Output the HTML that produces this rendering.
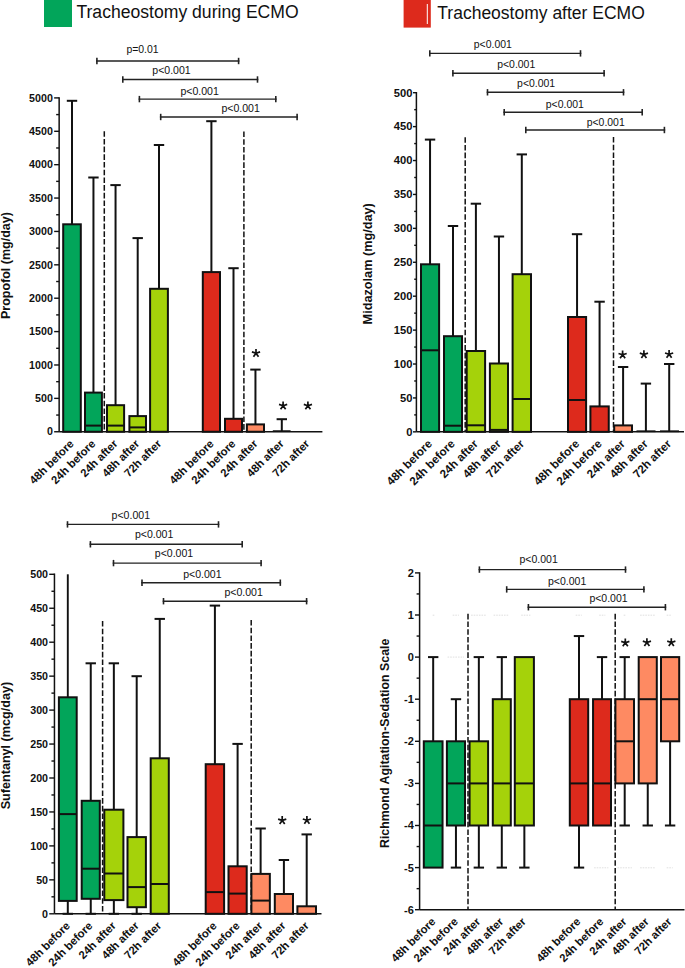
<!DOCTYPE html>
<html><head><meta charset="utf-8"><title>Tracheostomy ECMO sedation</title>
<style>
html,body{margin:0;padding:0;background:#fff;width:685px;height:968px;overflow:hidden}
svg{display:block}
text{font-family:"Liberation Sans", sans-serif;fill:#111}
</style></head>
<body>
<svg width="685" height="968" viewBox="0 0 685 968">
<rect x="44" y="-2" width="28" height="29" fill="#02a55a"/>
<text x="76.4" y="18.2" font-size="17.6" fill="#231f20">Tracheostomy during ECMO</text>
<rect x="403.6" y="-2" width="27.2" height="29.6" fill="#dd2a1c"/>
<line x1="427.3" y1="4" x2="427.3" y2="24" stroke="#fff" stroke-width="1"/>
<text x="437.3" y="18.6" font-size="17.5" fill="#231f20">Tracheostomy after ECMO</text>
<line x1="59.15" y1="97.2" x2="59.15" y2="431.75" stroke="#111" stroke-width="1.5"/>
<line x1="54.15" y1="431.75" x2="59.15" y2="431.75" stroke="#111" stroke-width="1.4"/>
<line x1="54.15" y1="398.37" x2="59.15" y2="398.37" stroke="#111" stroke-width="1.4"/>
<line x1="54.15" y1="364.98" x2="59.15" y2="364.98" stroke="#111" stroke-width="1.4"/>
<line x1="54.15" y1="331.59" x2="59.15" y2="331.59" stroke="#111" stroke-width="1.4"/>
<line x1="54.15" y1="298.21" x2="59.15" y2="298.21" stroke="#111" stroke-width="1.4"/>
<line x1="54.15" y1="264.82" x2="59.15" y2="264.82" stroke="#111" stroke-width="1.4"/>
<line x1="54.15" y1="231.44" x2="59.15" y2="231.44" stroke="#111" stroke-width="1.4"/>
<line x1="54.15" y1="198.06" x2="59.15" y2="198.06" stroke="#111" stroke-width="1.4"/>
<line x1="54.15" y1="164.67" x2="59.15" y2="164.67" stroke="#111" stroke-width="1.4"/>
<line x1="54.15" y1="131.29" x2="59.15" y2="131.29" stroke="#111" stroke-width="1.4"/>
<line x1="54.15" y1="97.9" x2="59.15" y2="97.9" stroke="#111" stroke-width="1.4"/>
<line x1="56.15" y1="415.06" x2="59.15" y2="415.06" stroke="#111" stroke-width="1.4"/>
<line x1="56.15" y1="381.67" x2="59.15" y2="381.67" stroke="#111" stroke-width="1.4"/>
<line x1="56.15" y1="348.29" x2="59.15" y2="348.29" stroke="#111" stroke-width="1.4"/>
<line x1="56.15" y1="314.9" x2="59.15" y2="314.9" stroke="#111" stroke-width="1.4"/>
<line x1="56.15" y1="281.52" x2="59.15" y2="281.52" stroke="#111" stroke-width="1.4"/>
<line x1="56.15" y1="248.13" x2="59.15" y2="248.13" stroke="#111" stroke-width="1.4"/>
<line x1="56.15" y1="214.75" x2="59.15" y2="214.75" stroke="#111" stroke-width="1.4"/>
<line x1="56.15" y1="181.36" x2="59.15" y2="181.36" stroke="#111" stroke-width="1.4"/>
<line x1="56.15" y1="147.98" x2="59.15" y2="147.98" stroke="#111" stroke-width="1.4"/>
<line x1="56.15" y1="114.59" x2="59.15" y2="114.59" stroke="#111" stroke-width="1.4"/>
<text x="52.85" y="435.45" font-size="10.7" font-weight="bold" text-anchor="end">0</text>
<text x="52.85" y="402.06" font-size="10.7" font-weight="bold" text-anchor="end">500</text>
<text x="52.85" y="368.68" font-size="10.7" font-weight="bold" text-anchor="end">1000</text>
<text x="52.85" y="335.29" font-size="10.7" font-weight="bold" text-anchor="end">1500</text>
<text x="52.85" y="301.91" font-size="10.7" font-weight="bold" text-anchor="end">2000</text>
<text x="52.85" y="268.52" font-size="10.7" font-weight="bold" text-anchor="end">2500</text>
<text x="52.85" y="235.14" font-size="10.7" font-weight="bold" text-anchor="end">3000</text>
<text x="52.85" y="201.75" font-size="10.7" font-weight="bold" text-anchor="end">3500</text>
<text x="52.85" y="168.37" font-size="10.7" font-weight="bold" text-anchor="end">4000</text>
<text x="52.85" y="134.99" font-size="10.7" font-weight="bold" text-anchor="end">4500</text>
<text x="52.85" y="101.6" font-size="10.7" font-weight="bold" text-anchor="end">5000</text>
<line x1="72" y1="100.8" x2="72" y2="224.3" stroke="#111" stroke-width="2.0"/>
<line x1="66.8" y1="100.8" x2="77.2" y2="100.8" stroke="#111" stroke-width="2.0"/>
<rect x="63.2" y="224.3" width="17.6" height="207.45" fill="#02a55a" stroke="#111" stroke-width="2.0"/>
<line x1="93.45" y1="177.5" x2="93.45" y2="392.6" stroke="#111" stroke-width="2.0"/>
<line x1="88.25" y1="177.5" x2="98.65" y2="177.5" stroke="#111" stroke-width="2.0"/>
<rect x="85" y="392.6" width="16.9" height="39.15" fill="#02a55a" stroke="#111" stroke-width="2.0"/>
<line x1="85" y1="425.6" x2="101.9" y2="425.6" stroke="#111" stroke-width="2.0"/>
<line x1="115.55" y1="185.1" x2="115.55" y2="405.2" stroke="#111" stroke-width="2.0"/>
<line x1="110.35" y1="185.1" x2="120.75" y2="185.1" stroke="#111" stroke-width="2.0"/>
<rect x="107" y="405.2" width="17.1" height="26.55" fill="#a5d20a" stroke="#111" stroke-width="2.0"/>
<line x1="107" y1="425.6" x2="124.1" y2="425.6" stroke="#111" stroke-width="2.0"/>
<line x1="137.7" y1="238.1" x2="137.7" y2="416.1" stroke="#111" stroke-width="2.0"/>
<line x1="132.5" y1="238.1" x2="142.9" y2="238.1" stroke="#111" stroke-width="2.0"/>
<rect x="129.4" y="416.1" width="16.6" height="15.65" fill="#a5d20a" stroke="#111" stroke-width="2.0"/>
<line x1="129.4" y1="427.4" x2="146" y2="427.4" stroke="#111" stroke-width="2.0"/>
<line x1="159" y1="145" x2="159" y2="288.8" stroke="#111" stroke-width="2.0"/>
<line x1="153.8" y1="145" x2="164.2" y2="145" stroke="#111" stroke-width="2.0"/>
<rect x="150.1" y="288.8" width="17.8" height="142.95" fill="#a5d20a" stroke="#111" stroke-width="2.0"/>
<line x1="211.4" y1="121.2" x2="211.4" y2="272.1" stroke="#111" stroke-width="2.0"/>
<line x1="206.2" y1="121.2" x2="216.6" y2="121.2" stroke="#111" stroke-width="2.0"/>
<rect x="202.8" y="272.1" width="17.2" height="159.65" fill="#dd2a1c" stroke="#111" stroke-width="2.0"/>
<line x1="233.5" y1="268.2" x2="233.5" y2="418.8" stroke="#111" stroke-width="2.0"/>
<line x1="228.3" y1="268.2" x2="238.7" y2="268.2" stroke="#111" stroke-width="2.0"/>
<rect x="225" y="418.8" width="17" height="12.95" fill="#dd2a1c" stroke="#111" stroke-width="2.0"/>
<line x1="255.45" y1="369.6" x2="255.45" y2="424.4" stroke="#111" stroke-width="2.0"/>
<line x1="250.25" y1="369.6" x2="260.65" y2="369.6" stroke="#111" stroke-width="2.0"/>
<rect x="246.9" y="424.4" width="17.1" height="7.35" fill="#fe8a62" stroke="#111" stroke-width="2.0"/>
<line x1="281.8" y1="419.2" x2="281.8" y2="431.75" stroke="#111" stroke-width="2.0"/>
<line x1="276.6" y1="419.2" x2="287" y2="419.2" stroke="#111" stroke-width="2.0"/>
<line x1="272.8" y1="431.15" x2="290.6" y2="431.15" stroke="#111" stroke-width="1.8"/>
<line x1="104.3" y1="131.2" x2="104.3" y2="431.75" stroke="#111" stroke-width="1.5" stroke-dasharray="5.6 2.1"/>
<line x1="243.9" y1="131.5" x2="243.9" y2="431.75" stroke="#111" stroke-width="1.5" stroke-dasharray="5.6 2.1"/>
<line x1="59.15" y1="431.75" x2="322.4" y2="431.75" stroke="#111" stroke-width="1.5"/>
<path d="M256 353.2L256 348.9M256 353.2L260.09 351.87M256 353.2L258.53 356.68M256 353.2L253.47 356.68M256 353.2L251.91 351.87" stroke="#111" stroke-width="1.7" fill="none" stroke-linecap="butt"/>
<path d="M283.1 405.7L283.1 401.4M283.1 405.7L287.19 404.37M283.1 405.7L285.63 409.18M283.1 405.7L280.57 409.18M283.1 405.7L279.01 404.37" stroke="#111" stroke-width="1.7" fill="none" stroke-linecap="butt"/>
<path d="M307.9 405.7L307.9 401.4M307.9 405.7L311.99 404.37M307.9 405.7L310.43 409.18M307.9 405.7L305.37 409.18M307.9 405.7L303.81 404.37" stroke="#111" stroke-width="1.7" fill="none" stroke-linecap="butt"/>
<line x1="96.1" y1="61" x2="239.4" y2="61" stroke="#222" stroke-width="1.4"/>
<line x1="96.9" y1="57.8" x2="96.9" y2="64.2" stroke="#222" stroke-width="1.6"/>
<line x1="238.6" y1="57.8" x2="238.6" y2="64.2" stroke="#222" stroke-width="1.6"/>
<text x="126.4" y="52.6" font-size="10.45" fill="#333">p=0.01</text>
<line x1="122" y1="79.5" x2="258.3" y2="79.5" stroke="#222" stroke-width="1.4"/>
<line x1="122.8" y1="76.3" x2="122.8" y2="82.7" stroke="#222" stroke-width="1.6"/>
<line x1="257.5" y1="76.3" x2="257.5" y2="82.7" stroke="#222" stroke-width="1.6"/>
<text x="152.3" y="73.5" font-size="10.55" fill="#333">p&lt;0.001</text>
<line x1="138.6" y1="99.1" x2="276.6" y2="99.1" stroke="#222" stroke-width="1.4"/>
<line x1="139.4" y1="95.9" x2="139.4" y2="102.3" stroke="#222" stroke-width="1.6"/>
<line x1="275.8" y1="95.9" x2="275.8" y2="102.3" stroke="#222" stroke-width="1.6"/>
<text x="180.4" y="94.6" font-size="10.55" fill="#333">p&lt;0.001</text>
<line x1="159.9" y1="117" x2="297.9" y2="117" stroke="#222" stroke-width="1.4"/>
<line x1="160.7" y1="113.8" x2="160.7" y2="120.2" stroke="#222" stroke-width="1.6"/>
<line x1="297.1" y1="113.8" x2="297.1" y2="120.2" stroke="#222" stroke-width="1.6"/>
<text x="221.4" y="112.2" font-size="10.55" fill="#333">p&lt;0.001</text>
<text x="74.5" y="444.45" font-size="11.3" font-weight="bold" text-anchor="end" transform="rotate(-45 74.5 444.45)">48h before</text>
<text x="96.2" y="444.45" font-size="11.3" font-weight="bold" text-anchor="end" transform="rotate(-45 96.2 444.45)">24h before</text>
<text x="118.3" y="444.45" font-size="11.3" font-weight="bold" text-anchor="end" transform="rotate(-45 118.3 444.45)">24h after</text>
<text x="140" y="444.45" font-size="11.3" font-weight="bold" text-anchor="end" transform="rotate(-45 140 444.45)">48h after</text>
<text x="162" y="444.45" font-size="11.3" font-weight="bold" text-anchor="end" transform="rotate(-45 162 444.45)">72h after</text>
<text x="214.5" y="444.45" font-size="11.3" font-weight="bold" text-anchor="end" transform="rotate(-45 214.5 444.45)">48h before</text>
<text x="236.3" y="444.45" font-size="11.3" font-weight="bold" text-anchor="end" transform="rotate(-45 236.3 444.45)">24h before</text>
<text x="258.3" y="444.45" font-size="11.3" font-weight="bold" text-anchor="end" transform="rotate(-45 258.3 444.45)">24h after</text>
<text x="284.5" y="444.45" font-size="11.3" font-weight="bold" text-anchor="end" transform="rotate(-45 284.5 444.45)">48h after</text>
<text x="310.2" y="444.45" font-size="11.3" font-weight="bold" text-anchor="end" transform="rotate(-45 310.2 444.45)">72h after</text>
<text x="9.6" y="265.6" font-size="12.5" font-weight="bold" text-anchor="middle" transform="rotate(-90 9.6 265.6)">Propofol (mg/day)</text>
<line x1="416.4" y1="92" x2="416.4" y2="431.85" stroke="#111" stroke-width="1.5"/>
<line x1="413" y1="431.85" x2="416.4" y2="431.85" stroke="#111" stroke-width="1.4"/>
<line x1="413" y1="397.94" x2="416.4" y2="397.94" stroke="#111" stroke-width="1.4"/>
<line x1="413" y1="364.02" x2="416.4" y2="364.02" stroke="#111" stroke-width="1.4"/>
<line x1="413" y1="330.11" x2="416.4" y2="330.11" stroke="#111" stroke-width="1.4"/>
<line x1="413" y1="296.19" x2="416.4" y2="296.19" stroke="#111" stroke-width="1.4"/>
<line x1="413" y1="262.27" x2="416.4" y2="262.27" stroke="#111" stroke-width="1.4"/>
<line x1="413" y1="228.36" x2="416.4" y2="228.36" stroke="#111" stroke-width="1.4"/>
<line x1="413" y1="194.44" x2="416.4" y2="194.44" stroke="#111" stroke-width="1.4"/>
<line x1="413" y1="160.53" x2="416.4" y2="160.53" stroke="#111" stroke-width="1.4"/>
<line x1="413" y1="126.61" x2="416.4" y2="126.61" stroke="#111" stroke-width="1.4"/>
<line x1="413" y1="92.7" x2="416.4" y2="92.7" stroke="#111" stroke-width="1.4"/>
<line x1="414.2" y1="414.89" x2="416.4" y2="414.89" stroke="#111" stroke-width="1.4"/>
<line x1="414.2" y1="380.98" x2="416.4" y2="380.98" stroke="#111" stroke-width="1.4"/>
<line x1="414.2" y1="347.06" x2="416.4" y2="347.06" stroke="#111" stroke-width="1.4"/>
<line x1="414.2" y1="313.15" x2="416.4" y2="313.15" stroke="#111" stroke-width="1.4"/>
<line x1="414.2" y1="279.23" x2="416.4" y2="279.23" stroke="#111" stroke-width="1.4"/>
<line x1="414.2" y1="245.32" x2="416.4" y2="245.32" stroke="#111" stroke-width="1.4"/>
<line x1="414.2" y1="211.4" x2="416.4" y2="211.4" stroke="#111" stroke-width="1.4"/>
<line x1="414.2" y1="177.49" x2="416.4" y2="177.49" stroke="#111" stroke-width="1.4"/>
<line x1="414.2" y1="143.57" x2="416.4" y2="143.57" stroke="#111" stroke-width="1.4"/>
<line x1="414.2" y1="109.66" x2="416.4" y2="109.66" stroke="#111" stroke-width="1.4"/>
<text x="412.4" y="435.65" font-size="11.2" font-weight="bold" text-anchor="end">0</text>
<text x="412.4" y="401.74" font-size="11.2" font-weight="bold" text-anchor="end">50</text>
<text x="412.4" y="367.82" font-size="11.2" font-weight="bold" text-anchor="end">100</text>
<text x="412.4" y="333.91" font-size="11.2" font-weight="bold" text-anchor="end">150</text>
<text x="412.4" y="299.99" font-size="11.2" font-weight="bold" text-anchor="end">200</text>
<text x="412.4" y="266.07" font-size="11.2" font-weight="bold" text-anchor="end">250</text>
<text x="412.4" y="232.16" font-size="11.2" font-weight="bold" text-anchor="end">300</text>
<text x="412.4" y="198.25" font-size="11.2" font-weight="bold" text-anchor="end">350</text>
<text x="412.4" y="164.33" font-size="11.2" font-weight="bold" text-anchor="end">400</text>
<text x="412.4" y="130.41" font-size="11.2" font-weight="bold" text-anchor="end">450</text>
<text x="412.4" y="96.5" font-size="11.2" font-weight="bold" text-anchor="end">500</text>
<line x1="430.05" y1="139.6" x2="430.05" y2="264.3" stroke="#111" stroke-width="2.0"/>
<line x1="424.85" y1="139.6" x2="435.25" y2="139.6" stroke="#111" stroke-width="2.0"/>
<rect x="421" y="264.3" width="18.1" height="167.55" fill="#02a55a" stroke="#111" stroke-width="2.0"/>
<line x1="421" y1="350.3" x2="439.1" y2="350.3" stroke="#111" stroke-width="2.0"/>
<line x1="453" y1="226" x2="453" y2="336.2" stroke="#111" stroke-width="2.0"/>
<line x1="447.8" y1="226" x2="458.2" y2="226" stroke="#111" stroke-width="2.0"/>
<rect x="444" y="336.2" width="18" height="95.65" fill="#02a55a" stroke="#111" stroke-width="2.0"/>
<line x1="444" y1="425.7" x2="462" y2="425.7" stroke="#111" stroke-width="2.0"/>
<line x1="475.9" y1="203.7" x2="475.9" y2="351" stroke="#111" stroke-width="2.0"/>
<line x1="470.7" y1="203.7" x2="481.1" y2="203.7" stroke="#111" stroke-width="2.0"/>
<rect x="466.7" y="351" width="18.4" height="80.85" fill="#a5d20a" stroke="#111" stroke-width="2.0"/>
<line x1="466.7" y1="425.3" x2="485.1" y2="425.3" stroke="#111" stroke-width="2.0"/>
<line x1="498.95" y1="236.5" x2="498.95" y2="363.5" stroke="#111" stroke-width="2.0"/>
<line x1="493.75" y1="236.5" x2="504.15" y2="236.5" stroke="#111" stroke-width="2.0"/>
<rect x="489.9" y="363.5" width="18.1" height="68.35" fill="#a5d20a" stroke="#111" stroke-width="2.0"/>
<line x1="489.9" y1="429.9" x2="508" y2="429.9" stroke="#111" stroke-width="2.0"/>
<line x1="521.8" y1="154.4" x2="521.8" y2="274.2" stroke="#111" stroke-width="2.0"/>
<line x1="516.6" y1="154.4" x2="527" y2="154.4" stroke="#111" stroke-width="2.0"/>
<rect x="512.6" y="274.2" width="18.4" height="157.65" fill="#a5d20a" stroke="#111" stroke-width="2.0"/>
<line x1="512.6" y1="399" x2="531" y2="399" stroke="#111" stroke-width="2.0"/>
<line x1="577.05" y1="234.2" x2="577.05" y2="317" stroke="#111" stroke-width="2.0"/>
<line x1="571.85" y1="234.2" x2="582.25" y2="234.2" stroke="#111" stroke-width="2.0"/>
<rect x="568" y="317" width="18.1" height="114.85" fill="#dd2a1c" stroke="#111" stroke-width="2.0"/>
<line x1="568" y1="400" x2="586.1" y2="400" stroke="#111" stroke-width="2.0"/>
<line x1="599.58" y1="301.7" x2="599.58" y2="406.4" stroke="#111" stroke-width="2.0"/>
<line x1="594.38" y1="301.7" x2="604.78" y2="301.7" stroke="#111" stroke-width="2.0"/>
<rect x="590.4" y="406.4" width="18.35" height="25.45" fill="#dd2a1c" stroke="#111" stroke-width="2.0"/>
<line x1="623.1" y1="367" x2="623.1" y2="425.4" stroke="#111" stroke-width="2.0"/>
<line x1="617.9" y1="367" x2="628.3" y2="367" stroke="#111" stroke-width="2.0"/>
<rect x="614.2" y="425.4" width="17.8" height="6.45" fill="#fe8a62" stroke="#111" stroke-width="2.0"/>
<line x1="645.9" y1="383.6" x2="645.9" y2="431.85" stroke="#111" stroke-width="2.0"/>
<line x1="640.7" y1="383.6" x2="651.1" y2="383.6" stroke="#111" stroke-width="2.0"/>
<line x1="636.5" y1="431.25" x2="655.5" y2="431.25" stroke="#111" stroke-width="1.8"/>
<line x1="669.2" y1="364" x2="669.2" y2="431.85" stroke="#111" stroke-width="2.0"/>
<line x1="664" y1="364" x2="674.4" y2="364" stroke="#111" stroke-width="2.0"/>
<line x1="660" y1="431.25" x2="679" y2="431.25" stroke="#111" stroke-width="1.8"/>
<line x1="465.2" y1="137.2" x2="465.2" y2="431.85" stroke="#111" stroke-width="1.5" stroke-dasharray="5.6 2.1"/>
<line x1="613.5" y1="137" x2="613.5" y2="431.85" stroke="#111" stroke-width="1.5" stroke-dasharray="5.6 2.1"/>
<line x1="416.4" y1="431.85" x2="684" y2="431.85" stroke="#111" stroke-width="1.5"/>
<path d="M622.6 354.8L622.6 350.5M622.6 354.8L626.69 353.47M622.6 354.8L625.13 358.28M622.6 354.8L620.07 358.28M622.6 354.8L618.51 353.47" stroke="#111" stroke-width="1.7" fill="none" stroke-linecap="butt"/>
<path d="M643.9 354.5L643.9 350.2M643.9 354.5L647.99 353.17M643.9 354.5L646.43 357.98M643.9 354.5L641.37 357.98M643.9 354.5L639.81 353.17" stroke="#111" stroke-width="1.7" fill="none" stroke-linecap="butt"/>
<path d="M669.1 354.3L669.1 350M669.1 354.3L673.19 352.97M669.1 354.3L671.63 357.78M669.1 354.3L666.57 357.78M669.1 354.3L665.01 352.97" stroke="#111" stroke-width="1.7" fill="none" stroke-linecap="butt"/>
<line x1="429" y1="53.4" x2="581.3" y2="53.4" stroke="#222" stroke-width="1.4"/>
<line x1="429.8" y1="50.2" x2="429.8" y2="56.6" stroke="#222" stroke-width="1.6"/>
<line x1="580.5" y1="50.2" x2="580.5" y2="56.6" stroke="#222" stroke-width="1.6"/>
<text x="473.8" y="48.3" font-size="10.45" fill="#333">p&lt;0.001</text>
<line x1="452.1" y1="73.2" x2="604.9" y2="73.2" stroke="#222" stroke-width="1.4"/>
<line x1="452.9" y1="70" x2="452.9" y2="76.4" stroke="#222" stroke-width="1.6"/>
<line x1="604.1" y1="70" x2="604.1" y2="76.4" stroke="#222" stroke-width="1.6"/>
<text x="497.2" y="67.5" font-size="10.45" fill="#333">p&lt;0.001</text>
<line x1="486.7" y1="92.3" x2="624.3" y2="92.3" stroke="#222" stroke-width="1.4"/>
<line x1="487.5" y1="89.1" x2="487.5" y2="95.5" stroke="#222" stroke-width="1.6"/>
<line x1="623.5" y1="89.1" x2="623.5" y2="95.5" stroke="#222" stroke-width="1.6"/>
<text x="517.1" y="86.6" font-size="10.45" fill="#333">p&lt;0.001</text>
<line x1="503.4" y1="112.2" x2="643" y2="112.2" stroke="#222" stroke-width="1.4"/>
<line x1="504.2" y1="109" x2="504.2" y2="115.4" stroke="#222" stroke-width="1.6"/>
<line x1="642.2" y1="109" x2="642.2" y2="115.4" stroke="#222" stroke-width="1.6"/>
<text x="545.8" y="107.6" font-size="10.45" fill="#333">p&lt;0.001</text>
<line x1="525" y1="130" x2="665.2" y2="130" stroke="#222" stroke-width="1.4"/>
<line x1="525.8" y1="126.8" x2="525.8" y2="133.2" stroke="#222" stroke-width="1.6"/>
<line x1="664.4" y1="126.8" x2="664.4" y2="133.2" stroke="#222" stroke-width="1.6"/>
<text x="586.7" y="125.8" font-size="10.45" fill="#333">p&lt;0.001</text>
<text x="432.8" y="444.55" font-size="11.6" font-weight="bold" text-anchor="end" transform="rotate(-45 432.8 444.55)">48h before</text>
<text x="455.6" y="444.55" font-size="11.6" font-weight="bold" text-anchor="end" transform="rotate(-45 455.6 444.55)">24h before</text>
<text x="478.7" y="444.55" font-size="11.6" font-weight="bold" text-anchor="end" transform="rotate(-45 478.7 444.55)">24h after</text>
<text x="501.6" y="444.55" font-size="11.6" font-weight="bold" text-anchor="end" transform="rotate(-45 501.6 444.55)">48h after</text>
<text x="524.9" y="444.55" font-size="11.6" font-weight="bold" text-anchor="end" transform="rotate(-45 524.9 444.55)">72h after</text>
<text x="580" y="444.55" font-size="11.6" font-weight="bold" text-anchor="end" transform="rotate(-45 580 444.55)">48h before</text>
<text x="602.6" y="444.55" font-size="11.6" font-weight="bold" text-anchor="end" transform="rotate(-45 602.6 444.55)">24h before</text>
<text x="625.8" y="444.55" font-size="11.6" font-weight="bold" text-anchor="end" transform="rotate(-45 625.8 444.55)">24h after</text>
<text x="648.6" y="444.55" font-size="11.6" font-weight="bold" text-anchor="end" transform="rotate(-45 648.6 444.55)">48h after</text>
<text x="671.9" y="444.55" font-size="11.6" font-weight="bold" text-anchor="end" transform="rotate(-45 671.9 444.55)">72h after</text>
<text x="372.4" y="263.8" font-size="12.7" font-weight="bold" text-anchor="middle" transform="rotate(-90 372.4 263.8)">Midazolam (mg/day)</text>
<line x1="54.45" y1="573.6" x2="54.45" y2="913.8" stroke="#111" stroke-width="1.5"/>
<line x1="49.25" y1="913.8" x2="54.45" y2="913.8" stroke="#111" stroke-width="1.4"/>
<line x1="49.25" y1="879.85" x2="54.45" y2="879.85" stroke="#111" stroke-width="1.4"/>
<line x1="49.25" y1="845.9" x2="54.45" y2="845.9" stroke="#111" stroke-width="1.4"/>
<line x1="49.25" y1="811.95" x2="54.45" y2="811.95" stroke="#111" stroke-width="1.4"/>
<line x1="49.25" y1="778" x2="54.45" y2="778" stroke="#111" stroke-width="1.4"/>
<line x1="49.25" y1="744.05" x2="54.45" y2="744.05" stroke="#111" stroke-width="1.4"/>
<line x1="49.25" y1="710.1" x2="54.45" y2="710.1" stroke="#111" stroke-width="1.4"/>
<line x1="49.25" y1="676.15" x2="54.45" y2="676.15" stroke="#111" stroke-width="1.4"/>
<line x1="49.25" y1="642.2" x2="54.45" y2="642.2" stroke="#111" stroke-width="1.4"/>
<line x1="49.25" y1="608.25" x2="54.45" y2="608.25" stroke="#111" stroke-width="1.4"/>
<line x1="49.25" y1="574.3" x2="54.45" y2="574.3" stroke="#111" stroke-width="1.4"/>
<line x1="51.45" y1="896.82" x2="54.45" y2="896.82" stroke="#111" stroke-width="1.4"/>
<line x1="51.45" y1="862.88" x2="54.45" y2="862.88" stroke="#111" stroke-width="1.4"/>
<line x1="51.45" y1="828.92" x2="54.45" y2="828.92" stroke="#111" stroke-width="1.4"/>
<line x1="51.45" y1="794.97" x2="54.45" y2="794.97" stroke="#111" stroke-width="1.4"/>
<line x1="51.45" y1="761.02" x2="54.45" y2="761.02" stroke="#111" stroke-width="1.4"/>
<line x1="51.45" y1="727.07" x2="54.45" y2="727.07" stroke="#111" stroke-width="1.4"/>
<line x1="51.45" y1="693.12" x2="54.45" y2="693.12" stroke="#111" stroke-width="1.4"/>
<line x1="51.45" y1="659.17" x2="54.45" y2="659.17" stroke="#111" stroke-width="1.4"/>
<line x1="51.45" y1="625.22" x2="54.45" y2="625.22" stroke="#111" stroke-width="1.4"/>
<line x1="51.45" y1="591.27" x2="54.45" y2="591.27" stroke="#111" stroke-width="1.4"/>
<text x="48.05" y="917.7" font-size="10.7" font-weight="bold" text-anchor="end">0</text>
<text x="48.05" y="883.75" font-size="10.7" font-weight="bold" text-anchor="end">50</text>
<text x="48.05" y="849.8" font-size="10.7" font-weight="bold" text-anchor="end">100</text>
<text x="48.05" y="815.85" font-size="10.7" font-weight="bold" text-anchor="end">150</text>
<text x="48.05" y="781.9" font-size="10.7" font-weight="bold" text-anchor="end">200</text>
<text x="48.05" y="747.95" font-size="10.7" font-weight="bold" text-anchor="end">250</text>
<text x="48.05" y="714" font-size="10.7" font-weight="bold" text-anchor="end">300</text>
<text x="48.05" y="680.05" font-size="10.7" font-weight="bold" text-anchor="end">350</text>
<text x="48.05" y="646.1" font-size="10.7" font-weight="bold" text-anchor="end">400</text>
<text x="48.05" y="612.15" font-size="10.7" font-weight="bold" text-anchor="end">450</text>
<text x="48.05" y="578.2" font-size="10.7" font-weight="bold" text-anchor="end">500</text>
<line x1="67.8" y1="900.9" x2="67.8" y2="913.8" stroke="#111" stroke-width="2.0"/>
<line x1="62.6" y1="913.8" x2="73" y2="913.8" stroke="#111" stroke-width="2.0"/>
<rect x="58.9" y="697.3" width="17.8" height="203.6" fill="#02a55a" stroke="#111" stroke-width="2.0"/>
<line x1="58.9" y1="814.1" x2="76.7" y2="814.1" stroke="#111" stroke-width="2.0"/>
<line x1="67.8" y1="574.3" x2="67.8" y2="697.3" stroke="#111" stroke-width="1.9"/>
<line x1="90.75" y1="663.3" x2="90.75" y2="800.8" stroke="#111" stroke-width="2.0"/>
<line x1="85.55" y1="663.3" x2="95.95" y2="663.3" stroke="#111" stroke-width="2.0"/>
<line x1="90.75" y1="898.8" x2="90.75" y2="913.8" stroke="#111" stroke-width="2.0"/>
<line x1="85.55" y1="913.8" x2="95.95" y2="913.8" stroke="#111" stroke-width="2.0"/>
<rect x="81.7" y="800.8" width="18.1" height="98" fill="#02a55a" stroke="#111" stroke-width="2.0"/>
<line x1="81.7" y1="868.7" x2="99.8" y2="868.7" stroke="#111" stroke-width="2.0"/>
<line x1="113.85" y1="663.3" x2="113.85" y2="809.7" stroke="#111" stroke-width="2.0"/>
<line x1="108.65" y1="663.3" x2="119.05" y2="663.3" stroke="#111" stroke-width="2.0"/>
<line x1="113.85" y1="900.1" x2="113.85" y2="913.8" stroke="#111" stroke-width="2.0"/>
<line x1="108.65" y1="913.8" x2="119.05" y2="913.8" stroke="#111" stroke-width="2.0"/>
<rect x="104.3" y="809.7" width="19.1" height="90.4" fill="#a5d20a" stroke="#111" stroke-width="2.0"/>
<line x1="104.3" y1="873.5" x2="123.4" y2="873.5" stroke="#111" stroke-width="2.0"/>
<line x1="136.7" y1="676.2" x2="136.7" y2="837.1" stroke="#111" stroke-width="2.0"/>
<line x1="131.5" y1="676.2" x2="141.9" y2="676.2" stroke="#111" stroke-width="2.0"/>
<line x1="136.7" y1="907.2" x2="136.7" y2="913.8" stroke="#111" stroke-width="2.0"/>
<line x1="131.5" y1="913.8" x2="141.9" y2="913.8" stroke="#111" stroke-width="2.0"/>
<rect x="127.5" y="837.1" width="18.4" height="70.1" fill="#a5d20a" stroke="#111" stroke-width="2.0"/>
<line x1="127.5" y1="887.1" x2="145.9" y2="887.1" stroke="#111" stroke-width="2.0"/>
<line x1="159.75" y1="618.9" x2="159.75" y2="758.3" stroke="#111" stroke-width="2.0"/>
<line x1="154.55" y1="618.9" x2="164.95" y2="618.9" stroke="#111" stroke-width="2.0"/>
<rect x="150.7" y="758.3" width="18.1" height="155.5" fill="#a5d20a" stroke="#111" stroke-width="2.0"/>
<line x1="150.7" y1="884" x2="168.8" y2="884" stroke="#111" stroke-width="2.0"/>
<line x1="214.9" y1="605.6" x2="214.9" y2="764.2" stroke="#111" stroke-width="2.0"/>
<line x1="209.7" y1="605.6" x2="220.1" y2="605.6" stroke="#111" stroke-width="2.0"/>
<rect x="205.7" y="764.2" width="18.4" height="149.6" fill="#dd2a1c" stroke="#111" stroke-width="2.0"/>
<line x1="205.7" y1="892.1" x2="224.1" y2="892.1" stroke="#111" stroke-width="2.0"/>
<line x1="237.6" y1="743.9" x2="237.6" y2="866.3" stroke="#111" stroke-width="2.0"/>
<line x1="232.4" y1="743.9" x2="242.8" y2="743.9" stroke="#111" stroke-width="2.0"/>
<rect x="228.5" y="866.3" width="18.2" height="47.5" fill="#dd2a1c" stroke="#111" stroke-width="2.0"/>
<line x1="228.5" y1="893.6" x2="246.7" y2="893.6" stroke="#111" stroke-width="2.0"/>
<line x1="260.62" y1="828.5" x2="260.62" y2="873.9" stroke="#111" stroke-width="2.0"/>
<line x1="255.43" y1="828.5" x2="265.82" y2="828.5" stroke="#111" stroke-width="2.0"/>
<rect x="251.4" y="873.9" width="18.45" height="39.9" fill="#fe8a62" stroke="#111" stroke-width="2.0"/>
<line x1="251.4" y1="900.6" x2="269.85" y2="900.6" stroke="#111" stroke-width="2.0"/>
<line x1="283.9" y1="860" x2="283.9" y2="894" stroke="#111" stroke-width="2.0"/>
<line x1="278.7" y1="860" x2="289.1" y2="860" stroke="#111" stroke-width="2.0"/>
<rect x="274.8" y="894" width="18.2" height="19.8" fill="#fe8a62" stroke="#111" stroke-width="2.0"/>
<line x1="306.7" y1="834.4" x2="306.7" y2="906.3" stroke="#111" stroke-width="2.0"/>
<line x1="301.5" y1="834.4" x2="311.9" y2="834.4" stroke="#111" stroke-width="2.0"/>
<rect x="297.4" y="906.3" width="18.6" height="7.5" fill="#fe8a62" stroke="#111" stroke-width="2.0"/>
<line x1="102.6" y1="621" x2="102.6" y2="913.8" stroke="#111" stroke-width="1.5" stroke-dasharray="5.6 2.1"/>
<line x1="251.2" y1="620" x2="251.2" y2="913.8" stroke="#111" stroke-width="1.5" stroke-dasharray="5.6 2.1"/>
<line x1="54.45" y1="913.8" x2="321.5" y2="913.8" stroke="#111" stroke-width="1.5"/>
<path d="M282.2 820.4L282.2 816.1M282.2 820.4L286.29 819.07M282.2 820.4L284.73 823.88M282.2 820.4L279.67 823.88M282.2 820.4L278.11 819.07" stroke="#111" stroke-width="1.7" fill="none" stroke-linecap="butt"/>
<path d="M306.9 820.3L306.9 816M306.9 820.3L310.99 818.97M306.9 820.3L309.43 823.78M306.9 820.3L304.37 823.78M306.9 820.3L302.81 818.97" stroke="#111" stroke-width="1.7" fill="none" stroke-linecap="butt"/>
<line x1="66.7" y1="524.4" x2="219.3" y2="524.4" stroke="#222" stroke-width="1.4"/>
<line x1="67.5" y1="521.2" x2="67.5" y2="527.6" stroke="#222" stroke-width="1.6"/>
<line x1="218.5" y1="521.2" x2="218.5" y2="527.6" stroke="#222" stroke-width="1.6"/>
<text x="111.6" y="519" font-size="10.55" fill="#333">p&lt;0.001</text>
<line x1="89.6" y1="544.3" x2="243" y2="544.3" stroke="#222" stroke-width="1.4"/>
<line x1="90.4" y1="541.1" x2="90.4" y2="547.5" stroke="#222" stroke-width="1.6"/>
<line x1="242.2" y1="541.1" x2="242.2" y2="547.5" stroke="#222" stroke-width="1.6"/>
<text x="134.9" y="538.2" font-size="10.55" fill="#333">p&lt;0.001</text>
<line x1="112.7" y1="563.1" x2="261.9" y2="563.1" stroke="#222" stroke-width="1.4"/>
<line x1="113.5" y1="559.9" x2="113.5" y2="566.3" stroke="#222" stroke-width="1.6"/>
<line x1="261.1" y1="559.9" x2="261.1" y2="566.3" stroke="#222" stroke-width="1.6"/>
<text x="154.8" y="556.9" font-size="10.55" fill="#333">p&lt;0.001</text>
<line x1="141.2" y1="582.7" x2="281.1" y2="582.7" stroke="#222" stroke-width="1.4"/>
<line x1="142" y1="579.5" x2="142" y2="585.9" stroke="#222" stroke-width="1.6"/>
<line x1="280.3" y1="579.5" x2="280.3" y2="585.9" stroke="#222" stroke-width="1.6"/>
<text x="183.2" y="578" font-size="10.55" fill="#333">p&lt;0.001</text>
<line x1="162.7" y1="601.2" x2="307.4" y2="601.2" stroke="#222" stroke-width="1.4"/>
<line x1="163.5" y1="598" x2="163.5" y2="604.4" stroke="#222" stroke-width="1.6"/>
<line x1="306.6" y1="598" x2="306.6" y2="604.4" stroke="#222" stroke-width="1.6"/>
<text x="224.4" y="595.6" font-size="10.55" fill="#333">p&lt;0.001</text>
<text x="70.7" y="926.5" font-size="11.3" font-weight="bold" text-anchor="end" transform="rotate(-45 70.7 926.5)">48h before</text>
<text x="93.3" y="926.5" font-size="11.3" font-weight="bold" text-anchor="end" transform="rotate(-45 93.3 926.5)">24h before</text>
<text x="116.6" y="926.5" font-size="11.3" font-weight="bold" text-anchor="end" transform="rotate(-45 116.6 926.5)">24h after</text>
<text x="139.5" y="926.5" font-size="11.3" font-weight="bold" text-anchor="end" transform="rotate(-45 139.5 926.5)">48h after</text>
<text x="162" y="926.5" font-size="11.3" font-weight="bold" text-anchor="end" transform="rotate(-45 162 926.5)">72h after</text>
<text x="217.4" y="926.5" font-size="11.3" font-weight="bold" text-anchor="end" transform="rotate(-45 217.4 926.5)">48h before</text>
<text x="240.4" y="926.5" font-size="11.3" font-weight="bold" text-anchor="end" transform="rotate(-45 240.4 926.5)">24h before</text>
<text x="263.3" y="926.5" font-size="11.3" font-weight="bold" text-anchor="end" transform="rotate(-45 263.3 926.5)">24h after</text>
<text x="286.4" y="926.5" font-size="11.3" font-weight="bold" text-anchor="end" transform="rotate(-45 286.4 926.5)">48h after</text>
<text x="309.5" y="926.5" font-size="11.3" font-weight="bold" text-anchor="end" transform="rotate(-45 309.5 926.5)">72h after</text>
<text x="9.6" y="745.6" font-size="12.6" font-weight="bold" text-anchor="middle" transform="rotate(-90 9.6 745.6)">Sufentanyl (mcg/day)</text>
<line x1="419.6" y1="572.2" x2="419.6" y2="909.7" stroke="#111" stroke-width="1.5"/>
<line x1="415" y1="572.9" x2="419.6" y2="572.9" stroke="#111" stroke-width="1.4"/>
<line x1="415" y1="615" x2="419.6" y2="615" stroke="#111" stroke-width="1.4"/>
<line x1="415" y1="657.1" x2="419.6" y2="657.1" stroke="#111" stroke-width="1.4"/>
<line x1="415" y1="699.2" x2="419.6" y2="699.2" stroke="#111" stroke-width="1.4"/>
<line x1="415" y1="741.3" x2="419.6" y2="741.3" stroke="#111" stroke-width="1.4"/>
<line x1="415" y1="783.4" x2="419.6" y2="783.4" stroke="#111" stroke-width="1.4"/>
<line x1="415" y1="825.5" x2="419.6" y2="825.5" stroke="#111" stroke-width="1.4"/>
<line x1="415" y1="867.6" x2="419.6" y2="867.6" stroke="#111" stroke-width="1.4"/>
<line x1="415" y1="909.7" x2="419.6" y2="909.7" stroke="#111" stroke-width="1.4"/>
<line x1="416.6" y1="593.95" x2="419.6" y2="593.95" stroke="#111" stroke-width="1.4"/>
<line x1="416.6" y1="636.05" x2="419.6" y2="636.05" stroke="#111" stroke-width="1.4"/>
<line x1="416.6" y1="678.15" x2="419.6" y2="678.15" stroke="#111" stroke-width="1.4"/>
<line x1="416.6" y1="720.25" x2="419.6" y2="720.25" stroke="#111" stroke-width="1.4"/>
<line x1="416.6" y1="762.35" x2="419.6" y2="762.35" stroke="#111" stroke-width="1.4"/>
<line x1="416.6" y1="804.45" x2="419.6" y2="804.45" stroke="#111" stroke-width="1.4"/>
<line x1="416.6" y1="846.55" x2="419.6" y2="846.55" stroke="#111" stroke-width="1.4"/>
<line x1="416.6" y1="888.65" x2="419.6" y2="888.65" stroke="#111" stroke-width="1.4"/>
<text x="413.8" y="576.8" font-size="11.0" font-weight="bold" text-anchor="end">2</text>
<text x="413.8" y="618.9" font-size="11.0" font-weight="bold" text-anchor="end">1</text>
<text x="413.8" y="661" font-size="11.0" font-weight="bold" text-anchor="end">0</text>
<text x="413.8" y="703.1" font-size="11.0" font-weight="bold" text-anchor="end">-1</text>
<text x="413.8" y="745.2" font-size="11.0" font-weight="bold" text-anchor="end">-2</text>
<text x="413.8" y="787.3" font-size="11.0" font-weight="bold" text-anchor="end">-3</text>
<text x="413.8" y="829.4" font-size="11.0" font-weight="bold" text-anchor="end">-4</text>
<text x="413.8" y="871.5" font-size="11.0" font-weight="bold" text-anchor="end">-5</text>
<text x="413.8" y="913.6" font-size="11.0" font-weight="bold" text-anchor="end">-6</text>
<line x1="433.18" y1="657.1" x2="433.18" y2="741.3" stroke="#111" stroke-width="2.0"/>
<line x1="427.98" y1="657.1" x2="438.38" y2="657.1" stroke="#111" stroke-width="2.0"/>
<rect x="423.8" y="741.3" width="18.75" height="126.3" fill="#02a55a" stroke="#111" stroke-width="2.0"/>
<line x1="423.8" y1="825.5" x2="442.55" y2="825.5" stroke="#111" stroke-width="2.0"/>
<line x1="455.95" y1="699.2" x2="455.95" y2="741.3" stroke="#111" stroke-width="2.0"/>
<line x1="450.75" y1="699.2" x2="461.15" y2="699.2" stroke="#111" stroke-width="2.0"/>
<line x1="455.95" y1="825.5" x2="455.95" y2="867.6" stroke="#111" stroke-width="2.0"/>
<line x1="450.75" y1="867.6" x2="461.15" y2="867.6" stroke="#111" stroke-width="2.0"/>
<rect x="446.9" y="741.3" width="18.1" height="84.2" fill="#02a55a" stroke="#111" stroke-width="2.0"/>
<line x1="446.9" y1="783.4" x2="465" y2="783.4" stroke="#111" stroke-width="2.0"/>
<line x1="478.85" y1="657.1" x2="478.85" y2="741.3" stroke="#111" stroke-width="2.0"/>
<line x1="473.65" y1="657.1" x2="484.05" y2="657.1" stroke="#111" stroke-width="2.0"/>
<line x1="478.85" y1="825.5" x2="478.85" y2="867.6" stroke="#111" stroke-width="2.0"/>
<line x1="473.65" y1="867.6" x2="484.05" y2="867.6" stroke="#111" stroke-width="2.0"/>
<rect x="469.6" y="741.3" width="18.5" height="84.2" fill="#a5d20a" stroke="#111" stroke-width="2.0"/>
<line x1="469.6" y1="783.4" x2="488.1" y2="783.4" stroke="#111" stroke-width="2.0"/>
<line x1="501.8" y1="657.1" x2="501.8" y2="699.2" stroke="#111" stroke-width="2.0"/>
<line x1="496.6" y1="657.1" x2="507" y2="657.1" stroke="#111" stroke-width="2.0"/>
<line x1="501.8" y1="825.5" x2="501.8" y2="867.6" stroke="#111" stroke-width="2.0"/>
<line x1="496.6" y1="867.6" x2="507" y2="867.6" stroke="#111" stroke-width="2.0"/>
<rect x="492.8" y="699.2" width="18" height="126.3" fill="#a5d20a" stroke="#111" stroke-width="2.0"/>
<line x1="492.8" y1="783.4" x2="510.8" y2="783.4" stroke="#111" stroke-width="2.0"/>
<line x1="524.35" y1="825.5" x2="524.35" y2="867.6" stroke="#111" stroke-width="2.0"/>
<line x1="519.15" y1="867.6" x2="529.55" y2="867.6" stroke="#111" stroke-width="2.0"/>
<rect x="514.8" y="657.1" width="19.1" height="168.4" fill="#a5d20a" stroke="#111" stroke-width="2.0"/>
<line x1="514.8" y1="783.4" x2="533.9" y2="783.4" stroke="#111" stroke-width="2.0"/>
<line x1="579" y1="636.05" x2="579" y2="699.2" stroke="#111" stroke-width="2.0"/>
<line x1="573.8" y1="636.05" x2="584.2" y2="636.05" stroke="#111" stroke-width="2.0"/>
<line x1="579" y1="825.5" x2="579" y2="867.6" stroke="#111" stroke-width="2.0"/>
<line x1="573.8" y1="867.6" x2="584.2" y2="867.6" stroke="#111" stroke-width="2.0"/>
<rect x="569.8" y="699.2" width="18.4" height="126.3" fill="#dd2a1c" stroke="#111" stroke-width="2.0"/>
<line x1="569.8" y1="783.4" x2="588.2" y2="783.4" stroke="#111" stroke-width="2.0"/>
<line x1="602.02" y1="657.1" x2="602.02" y2="699.2" stroke="#111" stroke-width="2.0"/>
<line x1="596.82" y1="657.1" x2="607.23" y2="657.1" stroke="#111" stroke-width="2.0"/>
<rect x="593.05" y="699.2" width="17.95" height="126.3" fill="#dd2a1c" stroke="#111" stroke-width="2.0"/>
<line x1="593.05" y1="783.4" x2="611" y2="783.4" stroke="#111" stroke-width="2.0"/>
<line x1="624.7" y1="657.1" x2="624.7" y2="699.2" stroke="#111" stroke-width="2.0"/>
<line x1="619.5" y1="657.1" x2="629.9" y2="657.1" stroke="#111" stroke-width="2.0"/>
<line x1="624.7" y1="783.4" x2="624.7" y2="825.5" stroke="#111" stroke-width="2.0"/>
<line x1="619.5" y1="825.5" x2="629.9" y2="825.5" stroke="#111" stroke-width="2.0"/>
<rect x="615.4" y="699.2" width="18.6" height="84.2" fill="#fe8a62" stroke="#111" stroke-width="2.0"/>
<line x1="615.4" y1="741.3" x2="634" y2="741.3" stroke="#111" stroke-width="2.0"/>
<line x1="647.75" y1="783.4" x2="647.75" y2="825.5" stroke="#111" stroke-width="2.0"/>
<line x1="642.55" y1="825.5" x2="652.95" y2="825.5" stroke="#111" stroke-width="2.0"/>
<rect x="638.7" y="657.1" width="18.1" height="126.3" fill="#fe8a62" stroke="#111" stroke-width="2.0"/>
<line x1="638.7" y1="699.2" x2="656.8" y2="699.2" stroke="#111" stroke-width="2.0"/>
<line x1="670.1" y1="741.3" x2="670.1" y2="825.5" stroke="#111" stroke-width="2.0"/>
<line x1="664.9" y1="825.5" x2="675.3" y2="825.5" stroke="#111" stroke-width="2.0"/>
<rect x="661" y="657.1" width="18.2" height="84.2" fill="#fe8a62" stroke="#111" stroke-width="2.0"/>
<line x1="661" y1="699.2" x2="679.2" y2="699.2" stroke="#111" stroke-width="2.0"/>
<line x1="468" y1="613.8" x2="468" y2="909.7" stroke="#111" stroke-width="1.5" stroke-dasharray="5.6 2.1"/>
<line x1="615.2" y1="613.8" x2="615.2" y2="909.7" stroke="#111" stroke-width="1.5" stroke-dasharray="5.6 2.1"/>
<line x1="419.6" y1="909.7" x2="684.5" y2="909.7" stroke="#111" stroke-width="1.5"/>
<path d="M625.3 642.7L625.3 638.4M625.3 642.7L629.39 641.37M625.3 642.7L627.83 646.18M625.3 642.7L622.77 646.18M625.3 642.7L621.21 641.37" stroke="#111" stroke-width="1.7" fill="none" stroke-linecap="butt"/>
<path d="M646.9 642.5L646.9 638.2M646.9 642.5L650.99 641.17M646.9 642.5L649.43 645.98M646.9 642.5L644.37 645.98M646.9 642.5L642.81 641.17" stroke="#111" stroke-width="1.7" fill="none" stroke-linecap="butt"/>
<path d="M671.3 642.5L671.3 638.2M671.3 642.5L675.39 641.17M671.3 642.5L673.83 645.98M671.3 642.5L668.77 645.98M671.3 642.5L667.21 641.17" stroke="#111" stroke-width="1.7" fill="none" stroke-linecap="butt"/>
<line x1="478.6" y1="569.6" x2="626.3" y2="569.6" stroke="#222" stroke-width="1.4"/>
<line x1="479.4" y1="566.4" x2="479.4" y2="572.8" stroke="#222" stroke-width="1.6"/>
<line x1="625.5" y1="566.4" x2="625.5" y2="572.8" stroke="#222" stroke-width="1.6"/>
<text x="519.5" y="562.9" font-size="10.5" fill="#333">p&lt;0.001</text>
<line x1="505.9" y1="589.4" x2="644.7" y2="589.4" stroke="#222" stroke-width="1.4"/>
<line x1="506.7" y1="586.2" x2="506.7" y2="592.6" stroke="#222" stroke-width="1.6"/>
<line x1="643.9" y1="586.2" x2="643.9" y2="592.6" stroke="#222" stroke-width="1.6"/>
<text x="548" y="584.9" font-size="10.5" fill="#333">p&lt;0.001</text>
<line x1="527.6" y1="607.2" x2="666.2" y2="607.2" stroke="#222" stroke-width="1.4"/>
<line x1="528.4" y1="604" x2="528.4" y2="610.4" stroke="#222" stroke-width="1.6"/>
<line x1="665.4" y1="604" x2="665.4" y2="610.4" stroke="#222" stroke-width="1.6"/>
<text x="589.4" y="602.3" font-size="10.5" fill="#333">p&lt;0.001</text>
<line x1="432.7" y1="615.2" x2="435.3" y2="615.2" stroke="#dcdcdc" stroke-width="0.9" stroke-dasharray="1.6 1"/>
<line x1="452.7" y1="615.2" x2="458.9" y2="615.2" stroke="#dcdcdc" stroke-width="0.9" stroke-dasharray="1.6 1"/>
<line x1="471.1" y1="615.2" x2="486.5" y2="615.2" stroke="#dcdcdc" stroke-width="0.9" stroke-dasharray="1.6 1"/>
<line x1="493.6" y1="615.2" x2="509" y2="615.2" stroke="#dcdcdc" stroke-width="0.9" stroke-dasharray="1.6 1"/>
<line x1="521.2" y1="615.2" x2="530.4" y2="615.2" stroke="#dcdcdc" stroke-width="0.9" stroke-dasharray="1.6 1"/>
<line x1="575.7" y1="615.2" x2="581.8" y2="615.2" stroke="#dcdcdc" stroke-width="0.9" stroke-dasharray="1.6 1"/>
<line x1="599.2" y1="615.2" x2="605.3" y2="615.2" stroke="#dcdcdc" stroke-width="0.9" stroke-dasharray="1.6 1"/>
<line x1="623.7" y1="615.2" x2="625.8" y2="615.2" stroke="#dcdcdc" stroke-width="0.9" stroke-dasharray="1.6 1"/>
<line x1="640.1" y1="615.2" x2="655.4" y2="615.2" stroke="#dcdcdc" stroke-width="0.9" stroke-dasharray="1.6 1"/>
<line x1="666.7" y1="615.2" x2="670.8" y2="615.2" stroke="#dcdcdc" stroke-width="0.9" stroke-dasharray="1.6 1"/>
<line x1="447.6" y1="657.1" x2="464" y2="657.1" stroke="#dcdcdc" stroke-width="0.9" stroke-dasharray="1.6 1"/>
<line x1="594.1" y1="867.8" x2="608.4" y2="867.8" stroke="#dcdcdc" stroke-width="0.9" stroke-dasharray="1.6 1"/>
<line x1="617.6" y1="867.8" x2="631.9" y2="867.8" stroke="#dcdcdc" stroke-width="0.9" stroke-dasharray="1.6 1"/>
<line x1="640.1" y1="867.8" x2="655.4" y2="867.8" stroke="#dcdcdc" stroke-width="0.9" stroke-dasharray="1.6 1"/>
<line x1="666.7" y1="867.8" x2="672.8" y2="867.8" stroke="#dcdcdc" stroke-width="0.9" stroke-dasharray="1.6 1"/>
<text x="436.2" y="922.4" font-size="11.3" font-weight="bold" text-anchor="end" transform="rotate(-45 436.2 922.4)">48h before</text>
<text x="458.7" y="922.4" font-size="11.3" font-weight="bold" text-anchor="end" transform="rotate(-45 458.7 922.4)">24h before</text>
<text x="481.1" y="922.4" font-size="11.3" font-weight="bold" text-anchor="end" transform="rotate(-45 481.1 922.4)">24h after</text>
<text x="504" y="922.4" font-size="11.3" font-weight="bold" text-anchor="end" transform="rotate(-45 504 922.4)">48h after</text>
<text x="526.6" y="922.4" font-size="11.3" font-weight="bold" text-anchor="end" transform="rotate(-45 526.6 922.4)">72h after</text>
<text x="581.3" y="922.4" font-size="11.3" font-weight="bold" text-anchor="end" transform="rotate(-45 581.3 922.4)">48h before</text>
<text x="604.3" y="922.4" font-size="11.3" font-weight="bold" text-anchor="end" transform="rotate(-45 604.3 922.4)">24h before</text>
<text x="627.3" y="922.4" font-size="11.3" font-weight="bold" text-anchor="end" transform="rotate(-45 627.3 922.4)">24h after</text>
<text x="649.6" y="922.4" font-size="11.3" font-weight="bold" text-anchor="end" transform="rotate(-45 649.6 922.4)">48h after</text>
<text x="672.4" y="922.4" font-size="11.3" font-weight="bold" text-anchor="end" transform="rotate(-45 672.4 922.4)">72h after</text>
<text x="389" y="743.3" font-size="12.4" font-weight="bold" text-anchor="middle" transform="rotate(-90 389 743.3)">Richmond Agitation-Sedation Scale</text>
</svg>
</body></html>
